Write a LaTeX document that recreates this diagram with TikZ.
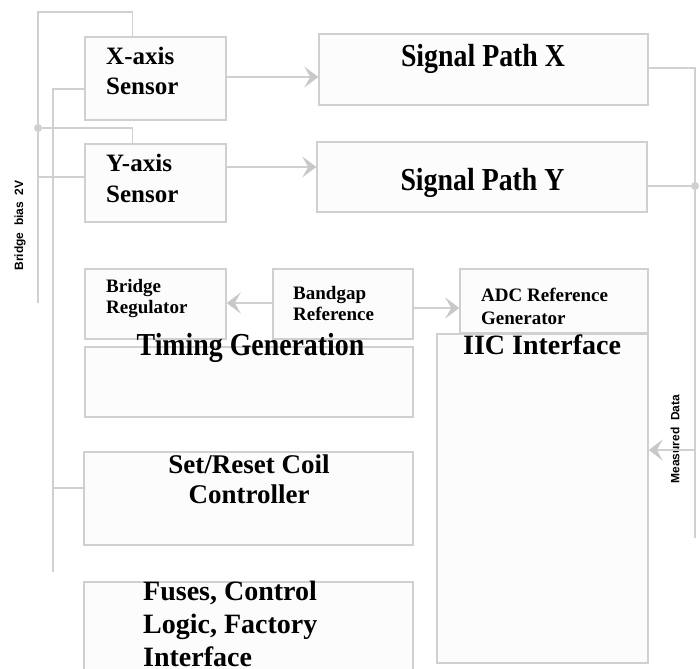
\documentclass[tikz,border=0pt]{standalone}
\usepackage{fontspec}
\setmainfont{Liberation Serif}
\setsansfont{Liberation Sans}
\newfontfamily\narrowserif{Liberation Serif}[FakeStretch=0.87]
\usetikzlibrary{arrows.meta}
\definecolor{wiregray}{HTML}{D0D0D0}
\definecolor{tipgray}{HTML}{C8C8C8}
\definecolor{boxfill}{HTML}{FCFCFC}

\begin{document}
\begin{tikzpicture}[x=1pt, y=-1pt,
            block/.style={rectangle, draw=wiregray, fill=boxfill, line width=1.5pt, inner sep=0pt},
            wire/.style={draw=wiregray, line width=1.5pt},
            txt/.style={inner sep=0pt, align=left, font=\bfseries}]
            \tikzset{arrow wire/.style={wire, -{Stealth[length=14pt,width=21pt,inset=6pt,color=tipgray]}}}
            \tikzset{side label/.style={inner sep=0pt, rotate=90, font=\sffamily\bfseries\fontsize{12}{14}\selectfont}}
            \tikzset{junction/.style={circle, fill=wiregray, inner sep=0pt, minimum width=8pt}}
            \useasboundingbox (0,0) rectangle (700,668);
            % blocks
            \node [block, minimum width=141pt, minimum height=83pt] (xsens) at (155.5,78.5) {};
            \node [block, minimum width=141pt, minimum height=78pt] (ysens) at (155.5,183) {};
            \node [block, minimum width=329pt, minimum height=71pt] (sigx) at (483.5,69.5) {};
            \node [block, minimum width=330pt, minimum height=70pt] (sigy) at (482,177) {};
            \node [block, minimum width=141pt, minimum height=70pt] (bridge) at (155.5,304) {};
            \node [block, minimum width=140pt, minimum height=70pt] (bandgap) at (343,304) {};
            \node [block, minimum width=188pt, minimum height=64pt] (adcref) at (554,301) {};
            \node [block, minimum width=328pt, minimum height=70pt] (timing) at (249,382) {};
            \node [block, minimum width=211pt, minimum height=329pt] (iic) at (542.5,498.5) {};
            \node [block, minimum width=329pt, minimum height=93pt] (setreset) at (248.5,498.5) {};
            \node [block, minimum width=329pt, minimum height=92pt] (fuses) at (248.5,628) {};
            % block texts (base = last line)
            \node [txt, anchor=base west, font=\bfseries\fontsize{25}{30}\selectfont] (xsenstxt) at (106,95) {X-axis\\Sensor};
            \node [txt, anchor=base west, font=\bfseries\fontsize{25}{30}\selectfont] (ysenstxt) at (106,202) {Y-axis\\Sensor};
            \node [txt, anchor=base, font=\narrowserif\bfseries\fontsize{32}{36}\selectfont] (sigxtxt) at (483,67) {Signal Path X};
            \node [txt, anchor=base, font=\narrowserif\bfseries\fontsize{32}{36}\selectfont] (sigytxt) at (482.5,190) {Signal Path Y};
            \node [txt, anchor=base west, font=\bfseries\fontsize{19}{21}\selectfont] (bridgetxt) at (106,313) {Bridge\\Regulator};
            \node [txt, anchor=base west, font=\bfseries\fontsize{19}{21}\selectfont] (bandgaptxt) at (293,320) {Bandgap\\Reference};
            \node [txt, anchor=base west, font=\bfseries\fontsize{19}{23}\selectfont] (adcreftxt) at (481,324) {ADC Reference\\Generator};
            \node [txt, anchor=base, font=\narrowserif\bfseries\fontsize{32}{36}\selectfont] (timingtxt) at (250.5,355) {Timing Generation};
            \node [txt, anchor=base west, font=\bfseries\fontsize{28}{32}\selectfont] (iictxt) at (463,354) {IIC Interface};
            \node [txt, anchor=base, align=center, font=\bfseries\fontsize{27}{30}\selectfont] (setresettxt) at (249,503) {Set/Reset Coil\\Controller};
            \node [txt, anchor=base west, font=\bfseries\fontsize{28}{33}\selectfont] (fusestxt) at (143,666) {Fuses, Control\\Logic, Factory\\Interface};
            % side labels
            \node [side label] (biaslabel) at (20,225.5) {Bridge\ \ bias\ \ 2V};
            \node [side label] (datalabel) at (675,439) {Measured\ \ Data};
            % bridge bias wiring
            \coordinate (btop) at (38,12);
            \coordinate (bbot) at (38,303);
            \coordinate (ibot) at (53,572);
            \node [junction] (jleft) at (38,128) {};
            \draw[wire] (bbot) -- (btop) -| ([xshift=48pt]xsens.north west);
            \draw[wire] (jleft) -| ([xshift=48pt]ysens.north west);
            \draw[wire] ([yshift=6pt]ysens.west) -- ([yshift=6pt]ysens.west -| bbot);
            \draw[wire] (ibot) |- ([yshift=-10.5pt]xsens.west);
            \draw[wire] ([yshift=10.5pt]setreset.west) -- ([yshift=10.5pt]setreset.west -| ibot);
            % measured data wiring
            \coordinate (rbot) at (695,538);
            \node [junction] (jright) at (695,186) {};
            \draw[wire] (rbot) |- ([yshift=1.5pt]sigx.east);
            \draw[wire] (jright) -- (jright -| sigy.east);
            \draw[arrow wire] ([yshift=48.5pt]iic.east -| rbot) -- ([yshift=48.5pt]iic.east);
            % signal arrows
            \draw[arrow wire] ([yshift=1.5pt]xsens.east) -- ([yshift=1.5pt]xsens.east -| sigx.west);
            \draw[arrow wire] ([yshift=16pt]ysens.east) -- ([yshift=16pt]ysens.east -| sigy.west);
            \draw[arrow wire] ([yshift=1pt]bandgap.west) -- ([yshift=1pt]bandgap.west -| bridge.east);
            \draw[arrow wire] ([yshift=-4pt]bandgap.east) -- ([yshift=-4pt]bandgap.east -| adcref.west);
        \end{tikzpicture}
\end{document}
